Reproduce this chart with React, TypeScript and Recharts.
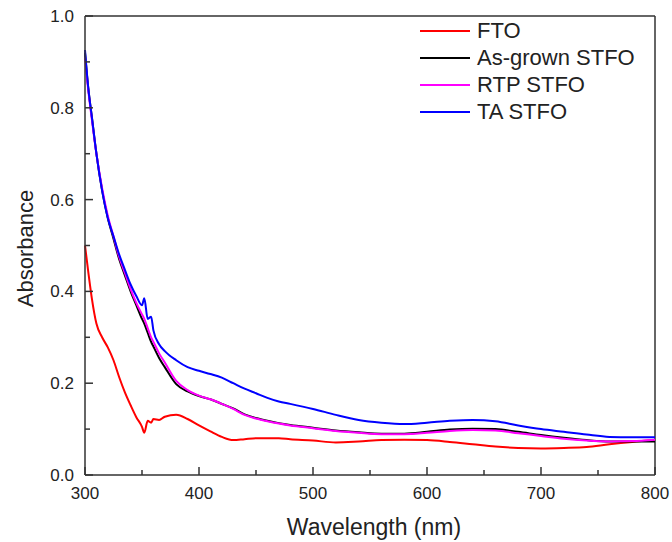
import React from 'react'
import { LineChart, Line, XAxis, YAxis, ReferenceLine, Legend, Label } from 'recharts'

const wavelength = [
  300, 303, 306, 310, 315, 320, 325, 330, 335, 340, 345, 350, 352, 355, 358,
  360, 365, 370, 380, 390, 400, 410, 420, 430, 440, 450, 460, 470, 480, 500,
  520, 540, 560, 580, 600, 620, 640, 660, 680, 700, 720, 740, 760, 780, 800
]

const fto = [
  0.5, 0.44, 0.385, 0.33, 0.3, 0.278, 0.25, 0.213, 0.18, 0.152, 0.126, 0.105, 0.092, 0.118, 0.114,
  0.122, 0.12, 0.127, 0.131, 0.122, 0.108, 0.095, 0.083, 0.076, 0.078, 0.08, 0.08, 0.08, 0.078, 0.075,
  0.071, 0.073, 0.076, 0.077, 0.076, 0.072, 0.067, 0.062, 0.059, 0.058, 0.059, 0.061, 0.067, 0.072, 0.076
]

const asGrown = [
  0.92, 0.84, 0.78, 0.7, 0.62, 0.56, 0.515, 0.47, 0.435, 0.4, 0.37, 0.34, 0.33, 0.31, 0.29,
  0.28, 0.255, 0.235, 0.198, 0.182, 0.172, 0.165, 0.155, 0.145, 0.132, 0.124, 0.118, 0.113, 0.109, 0.103,
  0.097, 0.093, 0.09, 0.09, 0.094, 0.099, 0.101, 0.1, 0.094, 0.087, 0.081, 0.076, 0.073, 0.073, 0.073
]

const rtp = [
  0.91, 0.835, 0.775, 0.7, 0.625, 0.565, 0.52, 0.475, 0.44, 0.405, 0.375, 0.35, 0.34, 0.32, 0.3,
  0.29, 0.265, 0.245, 0.205, 0.185, 0.173, 0.165, 0.155, 0.144, 0.131, 0.123, 0.117, 0.112, 0.108, 0.102,
  0.096, 0.092, 0.089, 0.089, 0.092, 0.096, 0.098, 0.097, 0.091, 0.085, 0.079, 0.075, 0.073, 0.074, 0.077
]

const ta = [
  0.926, 0.84, 0.78, 0.7, 0.62, 0.56, 0.52, 0.48, 0.447, 0.415, 0.39, 0.37, 0.385, 0.34, 0.345,
  0.315, 0.285, 0.27, 0.25, 0.235, 0.227, 0.22, 0.212, 0.2, 0.188, 0.178, 0.168, 0.16, 0.155, 0.144,
  0.131, 0.12, 0.114, 0.111, 0.114, 0.118, 0.12, 0.117, 0.108, 0.1, 0.094, 0.088, 0.083, 0.082, 0.082
]

const xTicks = [300, 350, 400, 450, 500, 550, 600, 650, 700, 750, 800]
const yTicks = [0, 0.1, 0.2, 0.3, 0.4, 0.5, 0.6, 0.7, 0.8, 0.9, 1.0]

const series = [
  { key: 'fto', name: 'FTO', color: '#ff0000' },
  { key: 'asGrown', name: 'As-grown STFO', color: '#000000' },
  { key: 'rtp', name: 'RTP STFO', color: '#ff00ff' },
  { key: 'ta', name: 'TA STFO', color: '#0000ff' }
]

const data = wavelength.map((w, i) => ({
  wl: w,
  fto: fto[i],
  asGrown: asGrown[i],
  rtp: rtp[i],
  ta: ta[i]
}))

const FONT = '"Liberation Sans", Arial, sans-serif'
const AXIS = '#333'

function XTick(props: any) {
  const { x, y, payload } = props
  const major = payload.value % 100 === 0
  return (
    <g>
      <line x1={x} x2={x} y1={y} y2={y - (major ? 8 : 5)} stroke={AXIS} strokeWidth={1.5} />
      {major && (
        <text x={x} y={y + 24} textAnchor="middle" fontSize={17} fontFamily={FONT} fill="#222">
          {payload.value}
        </text>
      )}
    </g>
  )
}

function YTick(props: any) {
  const { x, y, payload } = props
  const major = Math.round(payload.value * 10) % 2 === 0
  return (
    <g>
      <line x1={x} x2={x + (major ? 8 : 5)} y1={y} y2={y} stroke={AXIS} strokeWidth={1.5} />
      {major && (
        <text x={x - 11} y={y + 6} textAnchor="end" fontSize={17} fontFamily={FONT} fill="#222">
          {payload.value.toFixed(1)}
        </text>
      )}
    </g>
  )
}

function LegendBox() {
  return (
    <div style={{ fontFamily: FONT, fontSize: 22, color: '#222' }}>
      {series.map(s => (
        <div key={s.key} style={{ display: 'flex', alignItems: 'center', height: 27 }}>
          <svg width={50} height={4} style={{ marginRight: 7 }}>
            <line x1={0} x2={50} y1={2} y2={2} stroke={s.color} strokeWidth={2} />
          </svg>
          <span>{s.name}</span>
        </div>
      ))}
    </div>
  )
}

export default function App() {
  return (
    <div style={{ position: 'absolute', left: 0, top: 0, background: '#fff' }}>
      <LineChart width={672} height={542} data={data} margin={{ top: 16, right: 17, left: 0, bottom: 0 }}>
        <XAxis
          dataKey="wl"
          type="number"
          domain={[300, 800]}
          ticks={xTicks}
          interval={0}
          height={67}
          tickSize={0}
          tickMargin={0}
          tickLine={false}
          tick={<XTick />}
          axisLine={{ stroke: AXIS, strokeWidth: 1.5 }}
        >
          <Label
            content={(p: any) => (
              <text
                x={p.viewBox.x + p.viewBox.width / 2 + 4}
                y={p.viewBox.y + 60}
                textAnchor="middle"
                fontSize={23}
                fontFamily={FONT}
                fill="#222"
              >
                Wavelength (nm)
              </text>
            )}
          />
        </XAxis>
        <YAxis
          type="number"
          domain={[0, 1]}
          ticks={yTicks}
          interval={0}
          width={85}
          tickSize={0}
          tickMargin={0}
          tickLine={false}
          tick={<YTick />}
          axisLine={{ stroke: AXIS, strokeWidth: 1.5 }}
        >
          <Label
            content={(p: any) => (
              <text
                transform={`translate(33, ${p.viewBox.y + p.viewBox.height / 2 + 3}) rotate(-90)`}
                textAnchor="middle"
                fontSize={22}
                fontFamily={FONT}
                fill="#222"
              >
                Absorbance
              </text>
            )}
          />
        </YAxis>
        <ReferenceLine y={1} stroke={AXIS} strokeWidth={1.5} />
        <ReferenceLine x={800} stroke={AXIS} strokeWidth={1.5} />
        {series.map(s => (
          <Line
            key={s.key}
            dataKey={s.key}
            name={s.name}
            stroke={s.color}
            strokeWidth={2}
            dot={false}
            type="monotone"
            isAnimationActive={false}
          />
        ))}
        <Legend
          layout="vertical"
          align="center"
          verticalAlign="middle"
          content={<LegendBox />}
          wrapperStyle={{ left: 420, top: 17, width: 240 }}
        />
      </LineChart>
    </div>
  )
}
